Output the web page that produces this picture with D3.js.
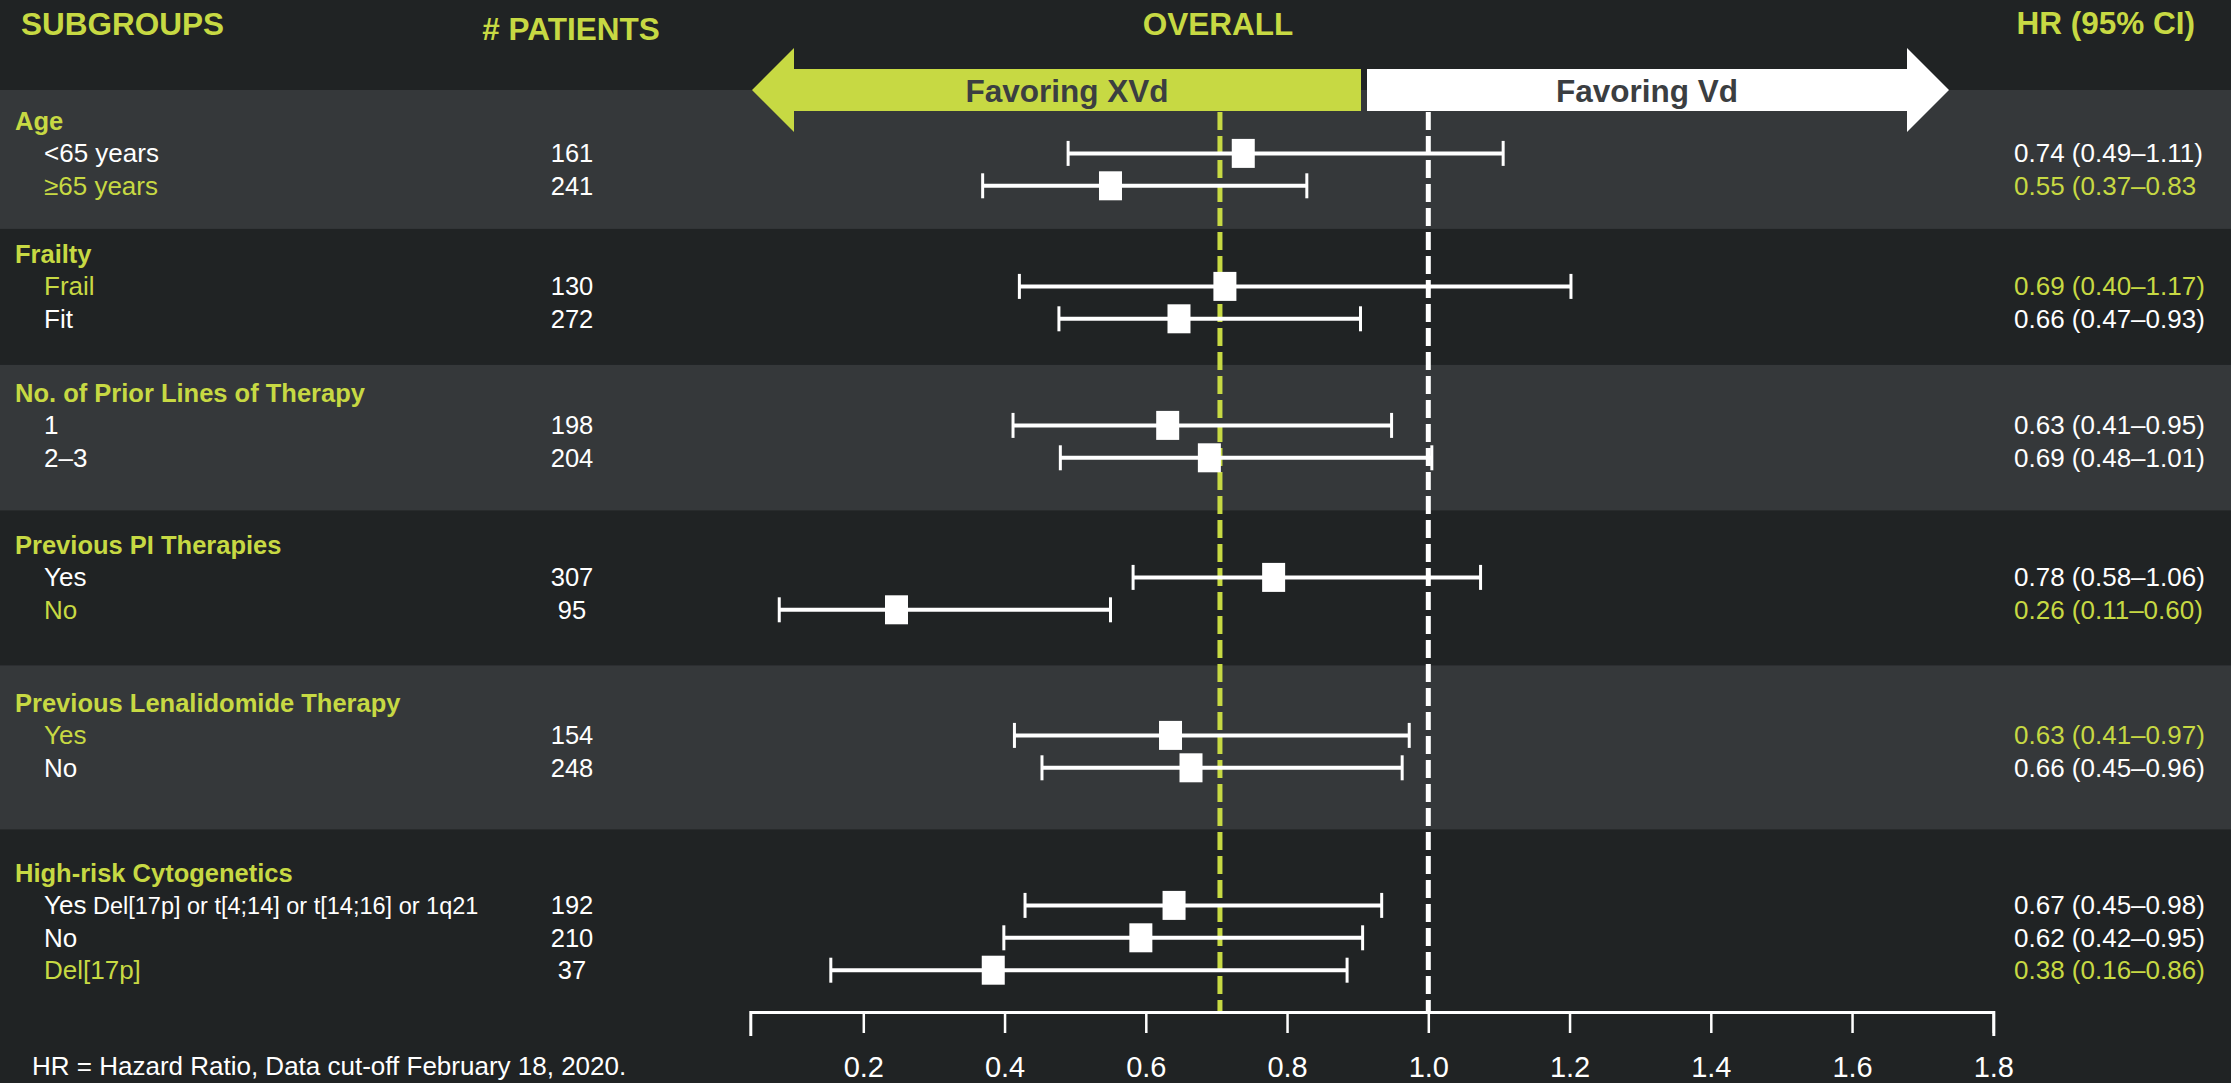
<!DOCTYPE html>
<html><head><meta charset="utf-8">
<script src="https://cdn.jsdelivr.net/npm/d3@7"></script>
<style>
html,body{margin:0;padding:0;background:#202324;}
svg{display:block;font-family:"Liberation Sans",Arial,Helvetica,sans-serif;}
</style>
</head><body>
<svg id="chart" width="2231" height="1083"></svg>
<script>
// ---------------- DATA ----------------
const groups = ["Age","Frailty","No. of Prior Lines of Therapy","Previous PI Therapies","Previous Lenalidomide Therapy","High-risk Cytogenetics"];
const rowGroup = [0,0,1,1,2,2,3,3,4,4,5,5,5];
const rowLabels = ["<65 years","≥65 years","Frail","Fit","1","2–3","Yes","No","Yes","No","Yes","No","Del[17p]"];
const rowNotes = ["","","","","","","","","","","Del[17p] or t[4;14] or t[14;16] or 1q21","",""];
const patients = [161,241,130,272,198,204,307,95,154,248,192,210,37];
const hrText = ["0.74 (0.49–1.11)","0.55 (0.37–0.83","0.69 (0.40–1.17)","0.66 (0.47–0.93)","0.63 (0.41–0.95)","0.69 (0.48–1.01)","0.78 (0.58–1.06)","0.26 (0.11–0.60)","0.63 (0.41–0.97)","0.66 (0.45–0.96)","0.67 (0.45–0.98)","0.62 (0.42–0.95)","0.38 (0.16–0.86)"];
const highlighted = [false,true,true,false,false,false,false,true,true,false,false,false,true];
// values as drawn in the picture
const hrPoint = [0.738,0.550,0.712,0.647,0.631,0.690,0.781,0.247,0.635,0.664,0.640,0.593,0.384];
const hrLow   = [0.490,0.369,0.421,0.477,0.412,0.479,0.582,0.081,0.414,0.453,0.429,0.399,0.154];
const hrHigh  = [1.106,0.828,1.202,0.904,0.948,1.005,1.074,0.550,0.973,0.963,0.934,0.907,0.885];
const overallHR = 0.705;
const referenceHR = 1.0;
const xTicks = [0.2,0.4,0.6,0.8,1.0,1.2,1.4,1.6,1.8];
const xDomain = [0.04,1.8];
const headers = {subgroups:"SUBGROUPS", patients:"# PATIENTS", overall:"OVERALL", hr:"HR (95% CI)"};
const favorLeft = "Favoring XVd", favorRight = "Favoring Vd";
const footnote = "HR = Hazard Ratio, Data cut-off February 18, 2020.";

// ---------------- STYLE / LAYOUT ----------------
const W = 2231, H = 1083;
const C = {bg:"#202324", band:"#35383a", green:"#c7d943", text:"#ffffff", arrowText:"#3b3e41"};
const groupBaseline = [130,263,402,554,712,882];
const rowStep = 32.4;
const axisY = 1012, plotTop = 112;

const svg = d3.select("#chart");
svg.append("rect").attr("width",W).attr("height",H).attr("fill",C.bg);

const x = d3.scaleLinear().domain(xDomain).range([750.3, 1993.3]);

// row baselines
const withinIdx = rowGroup.map((g,i)=> rowGroup.slice(0,i).filter(v=>v===g).length);
const rowY = rowGroup.map((g,i)=> groupBaseline[g] + (withinIdx[i]+1)*rowStep);
const lastRowY = groups.map((g,gi)=> d3.max(rowY.filter((_,i)=>rowGroup[i]===gi)));

// bands
groups.forEach((g,gi)=>{
  if (gi % 2 !== 0) return;
  const top = gi===0 ? 90 : (lastRowY[gi-1] + groupBaseline[gi]) / 2;
  const bot = gi===groups.length-1 ? axisY : (lastRowY[gi] + groupBaseline[gi+1]) / 2;
  svg.append("rect").attr("x",0).attr("y",top).attr("width",W).attr("height",bot-top).attr("fill",C.band);
});

// arrows
svg.append("polygon")
  .attr("points",[[752,90],[794,48],[794,69],[1361,69],[1361,111],[794,111],[794,132]].map(p=>p.join(",")).join(" "))
  .attr("fill",C.green);
svg.append("polygon")
  .attr("points",[[1367,69],[1907,69],[1907,48],[1949,90],[1907,132],[1907,111],[1367,111]].map(p=>p.join(",")).join(" "))
  .attr("fill","#ffffff");
svg.append("text").attr("x",1067).attr("y",102).attr("text-anchor","middle")
  .attr("font-size",31.5).attr("font-weight","bold").attr("fill",C.arrowText).text(favorLeft);
svg.append("text").attr("x",1647).attr("y",102).attr("text-anchor","middle")
  .attr("font-size",31.5).attr("font-weight","bold").attr("fill",C.arrowText).text(favorRight);

// headers
const hdr = (t,xx,yy,anchor)=> svg.append("text").attr("x",xx).attr("y",yy).attr("text-anchor",anchor)
  .attr("font-size",31.5).attr("font-weight","bold").attr("fill",C.green).text(t);
hdr(headers.subgroups,21,35,"start");
hdr(headers.patients,571,40,"middle");
hdr(headers.overall,1218,35,"middle");
hdr(headers.hr,2195,34,"end");

// reference lines
svg.append("line").attr("x1",x(referenceHR)).attr("x2",x(referenceHR)).attr("y1",plotTop).attr("y2",axisY)
  .attr("stroke","#ffffff").attr("stroke-width",5).attr("stroke-dasharray","18,6");
svg.append("line").attr("x1",x(overallHR)).attr("x2",x(overallHR)).attr("y1",plotTop).attr("y2",axisY)
  .attr("stroke",C.green).attr("stroke-width",5).attr("stroke-dasharray","18,6");

// forest marks
const idx = d3.range(rowLabels.length);
const markY = i => rowY[i] - 9;
const marks = svg.append("g");
marks.selectAll("line.ci").data(idx).join("line").attr("class","ci")
  .attr("x1",i=>x(hrLow[i])).attr("x2",i=>x(hrHigh[i])).attr("y1",markY).attr("y2",markY)
  .attr("stroke","#fff").attr("stroke-width",4);
marks.selectAll("line.capL").data(idx).join("line").attr("class","capL")
  .attr("x1",i=>x(hrLow[i])).attr("x2",i=>x(hrLow[i])).attr("y1",i=>markY(i)-12.5).attr("y2",i=>markY(i)+12.5)
  .attr("stroke","#fff").attr("stroke-width",3);
marks.selectAll("line.capH").data(idx).join("line").attr("class","capH")
  .attr("x1",i=>x(hrHigh[i])).attr("x2",i=>x(hrHigh[i])).attr("y1",i=>markY(i)-12.5).attr("y2",i=>markY(i)+12.5)
  .attr("stroke","#fff").attr("stroke-width",3);
marks.selectAll("rect.pt").data(idx).join("rect").attr("class","pt")
  .attr("x",i=>x(hrPoint[i])-11.5).attr("y",i=>markY(i)-14.5).attr("width",23).attr("height",29)
  .attr("fill","#fff");

// group headers
svg.selectAll("text.grp").data(groups).join("text").attr("class","grp")
  .attr("x",15).attr("y",(d,i)=>groupBaseline[i]).attr("font-size",25.5).attr("font-weight","bold")
  .attr("fill",C.green).text(d=>d);

// row labels
const lbl = svg.selectAll("text.row").data(idx).join("text").attr("class","row")
  .attr("x",44).attr("y",i=>rowY[i]).attr("font-size",26)
  .attr("fill",i=>highlighted[i]?C.green:C.text);
lbl.append("tspan").text(i=>rowLabels[i]);
lbl.filter(i=>rowNotes[i]).append("tspan").attr("font-size",23.5).text(i=>" "+rowNotes[i]);

// patients
svg.selectAll("text.pat").data(idx).join("text").attr("class","pat")
  .attr("x",572).attr("y",i=>rowY[i]).attr("text-anchor","middle").attr("font-size",25.5)
  .attr("fill",C.text).text(i=>patients[i]);

// HR text
svg.selectAll("text.hr").data(idx).join("text").attr("class","hr")
  .attr("x",2014).attr("y",i=>rowY[i]).attr("font-size",26)
  .attr("fill",i=>highlighted[i]?C.green:C.text).text(i=>hrText[i]);

// axis
const axis = d3.axisBottom(x).tickValues(xTicks).tickFormat(d3.format(".1f"))
  .tickSize(21).tickSizeOuter(24).tickPadding(23);
const ag = svg.append("g").attr("transform",`translate(0,${axisY})`).call(axis);
ag.select(".domain").attr("stroke","#fff").attr("stroke-width",3);
ag.selectAll(".tick line").attr("stroke","#fff").attr("stroke-width",2.5);
ag.selectAll(".tick text").attr("fill","#fff").attr("font-size",29)
  .attr("font-family","'Liberation Sans',Arial,sans-serif");

// footnote
svg.append("text").attr("x",32).attr("y",1075).attr("font-size",26).attr("fill",C.text).text(footnote);
</script>
</body></html>
